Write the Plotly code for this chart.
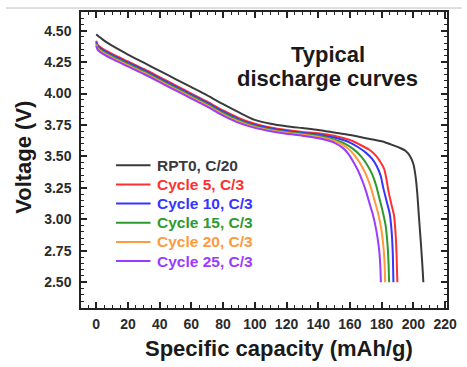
import plotly.graph_objects as go

# ---------------- data ----------------
rpt0_cap = [0, 2, 5, 10, 20, 30, 40, 50, 60, 70, 80, 90, 100, 110, 120, 130, 140, 150, 160, 170,
            180, 187, 192, 195, 198, 200, 201.5, 202.5, 203.5, 204.5, 205.5, 206.3]
rpt0_v = [4.47, 4.45, 4.42, 4.38, 4.31, 4.245, 4.18, 4.115, 4.05, 3.985, 3.915, 3.85, 3.79, 3.76,
          3.74, 3.725, 3.71, 3.69, 3.67, 3.645, 3.62, 3.59, 3.565, 3.545, 3.50, 3.44, 3.33, 3.20,
          3.02, 2.85, 2.67, 2.50]

c5_cap = [0, 1, 3, 10, 20, 30, 40, 50, 60, 70, 80, 90, 100, 110, 120, 130, 140, 150, 160, 166,
          172, 176.5, 179.5, 181.6, 183, 184.5, 186.3, 187.8, 188.8, 189.4, 189.9]
c5_v = [4.42, 4.385, 4.365, 4.315, 4.255, 4.195, 4.13, 4.065, 4.0, 3.935, 3.865, 3.805, 3.76, 3.73,
        3.71, 3.695, 3.685, 3.665, 3.63, 3.595, 3.555, 3.505, 3.45, 3.40, 3.32, 3.21, 3.11, 3.03,
        2.88, 2.72, 2.50]

c10_cap = [0, 1, 3, 10, 20, 30, 40, 50, 60, 70, 80, 90, 100, 110, 120, 130, 140, 150, 160, 165,
           170, 174, 177, 179.5, 181, 183, 185, 186.3, 187, 187.4]
c10_v = [4.41, 4.375, 4.355, 4.305, 4.245, 4.185, 4.12, 4.055, 3.99, 3.925, 3.855, 3.795, 3.75,
         3.722, 3.702, 3.687, 3.675, 3.65, 3.61, 3.575, 3.53, 3.48, 3.42, 3.34, 3.25, 3.15, 3.05,
         2.90, 2.73, 2.50]

c15_cap = [0, 1, 3, 10, 20, 30, 40, 50, 60, 70, 80, 90, 100, 110, 120, 130, 140, 150, 157, 162,
           167, 171, 174, 176.5, 178.5, 180.5, 182.5, 183.8, 184.4, 184.7]
c15_v = [4.40, 4.365, 4.345, 4.295, 4.235, 4.175, 4.11, 4.045, 3.98, 3.915, 3.845, 3.787, 3.743,
         3.715, 3.695, 3.68, 3.665, 3.635, 3.60, 3.56, 3.50, 3.43, 3.36, 3.27, 3.17, 3.07, 2.95,
         2.78, 2.63, 2.50]

c20_cap = [0, 1, 3, 10, 20, 30, 40, 50, 60, 70, 80, 90, 100, 110, 120, 130, 140, 150, 155, 160,
           164, 168, 171, 173.5, 175.5, 177.5, 179.8, 181.2, 181.9, 182.2]
c20_v = [4.39, 4.355, 4.335, 4.285, 4.225, 4.165, 4.10, 4.035, 3.97, 3.905, 3.835, 3.777, 3.735,
         3.708, 3.688, 3.673, 3.655, 3.625, 3.595, 3.55, 3.49, 3.41, 3.33, 3.24, 3.15, 3.06, 2.92,
         2.77, 2.63, 2.50]

c25_cap = [0, 1, 3, 10, 20, 30, 40, 50, 60, 70, 80, 90, 100, 110, 120, 130, 140, 145, 150, 155.7,
           159, 162, 165, 168, 170.2, 172.5, 174.4, 176.5, 178.2, 179.1, 179.5]
c25_v = [4.38, 4.345, 4.325, 4.275, 4.215, 4.155, 4.09, 4.025, 3.96, 3.895, 3.825, 3.767, 3.727,
         3.70, 3.68, 3.665, 3.645, 3.63, 3.61, 3.566, 3.52, 3.46, 3.39, 3.30, 3.22, 3.12, 3.04,
         2.92, 2.78, 2.64, 2.50]

series_names = ["RPT0, C/20", "Cycle 5, C/3", "Cycle 10, C/3", "Cycle 15, C/3",
                "Cycle 20, C/3", "Cycle 25, C/3"]
series_caps = [rpt0_cap, c5_cap, c10_cap, c15_cap, c20_cap, c25_cap]
series_vs = [rpt0_v, c5_v, c10_v, c15_v, c20_v, c25_v]
series_colors = ["#3a3a3a", "#ff3030", "#3535ff", "#2e9a2e", "#ff9a3c", "#9a3cff"]

x_ticks = list(range(0, 221, 20))
y_ticks = [2.50, 2.75, 3.00, 3.25, 3.50, 3.75, 4.00, 4.25, 4.50]

FONT = "Liberation Sans, Arial, Helvetica, sans-serif"

fig = go.Figure()
for cap, v, name, col in zip(series_caps, series_vs, series_names, series_colors):
    fig.add_trace(go.Scatter(x=cap, y=v, mode="lines", name=name,
                             line=dict(color=col, width=2, shape="spline", smoothing=0.6),
                             showlegend=False))

axis_common = dict(
    showline=True, linecolor="#222", linewidth=1.5, mirror="allticks",
    ticks="inside", ticklen=6, tickwidth=1.5, tickcolor="#222",
    showgrid=False, zeroline=False,
    tickfont=dict(family=FONT, size=14, color="#2a2a2a", weight="bold"),
)

fig.update_xaxes(range=[-9.6, 221.2], tickvals=x_ticks, ticktext=[str(t) for t in x_ticks],
                 ticklabelstandoff=2,
                 minor=dict(dtick=5, tick0=0, ticks="inside", ticklen=3, tickcolor="#222",
                            tickwidth=1.2, showgrid=False),
                 **axis_common)
fig.update_yaxes(range=[2.295, 4.648], tickvals=y_ticks, ticktext=[f"{t:.2f}" for t in y_ticks],
                 ticklabelstandoff=5,
                 minor=dict(dtick=0.05, tick0=0, ticks="inside", ticklen=3, tickcolor="#222",
                            tickwidth=1.2, showgrid=False),
                 **axis_common)

W, H = 467, 367
ML, MR, MT, MB = 81, 15, 10, 59
PW, PH = W - ML - MR, H - MT - MB


def px_x(p):
    return (p - ML) / PW


def px_y(p):
    return (H - MB - p) / PH


annotations = []
shapes = []

# manual legend
leg_rows = [164.3, 183.6, 202.9, 222.2, 241.5, 260.8]
for name, col, ry in zip(series_names, series_colors, leg_rows):
    shapes.append(dict(type="line", xref="paper", yref="paper",
                       x0=px_x(116.5), x1=px_x(151.5), y0=px_y(ry), y1=px_y(ry),
                       line=dict(color=col, width=2)))
    annotations.append(dict(text=f"<b>{name}</b>", xref="paper", yref="paper",
                            x=px_x(156), y=px_y(ry), xanchor="left", yanchor="middle",
                            showarrow=False,
                            font=dict(family=FONT, size=15.5, color=col)))

# inset title
annotations.append(dict(text="<b>Typical</b>", xref="paper", yref="paper",
                        x=px_x(331), y=px_y(53), xanchor="center", yanchor="middle",
                        showarrow=False, font=dict(family=FONT, size=22, color="#1a1a1a")))
annotations.append(dict(text="<b>discharge curves</b>", xref="paper", yref="paper",
                        x=px_x(331), y=px_y(76.5), xanchor="center", yanchor="middle",
                        showarrow=False, font=dict(family=FONT, size=22, color="#1a1a1a")))

# axis titles
annotations.append(dict(text="<b>Specific capacity (mAh/g)</b>", xref="paper", yref="paper",
                        x=px_x(281.5), y=px_y(349), xanchor="center", yanchor="middle",
                        showarrow=False, font=dict(family=FONT, size=22, color="#1a1a1a")))
annotations.append(dict(text="<b>Voltage (V)</b>", xref="paper", yref="paper",
                        x=px_x(22), y=px_y(156), xanchor="center", yanchor="middle",
                        textangle=-90, showarrow=False,
                        font=dict(family=FONT, size=22, color="#1a1a1a")))

# thin gray rule at the very top of the picture
shapes.append(dict(type="line", xref="paper", yref="paper",
                   x0=px_x(5), x1=px_x(467), y0=px_y(6), y1=px_y(6),
                   line=dict(color="#c0c0c0", width=1)))

fig.update_layout(
    width=W, height=H,
    margin=dict(l=ML, r=MR, t=MT, b=MB, pad=0),
    paper_bgcolor="white", plot_bgcolor="white",
    annotations=annotations, shapes=shapes,
    showlegend=False,
)

fig.write_html("out.html")
